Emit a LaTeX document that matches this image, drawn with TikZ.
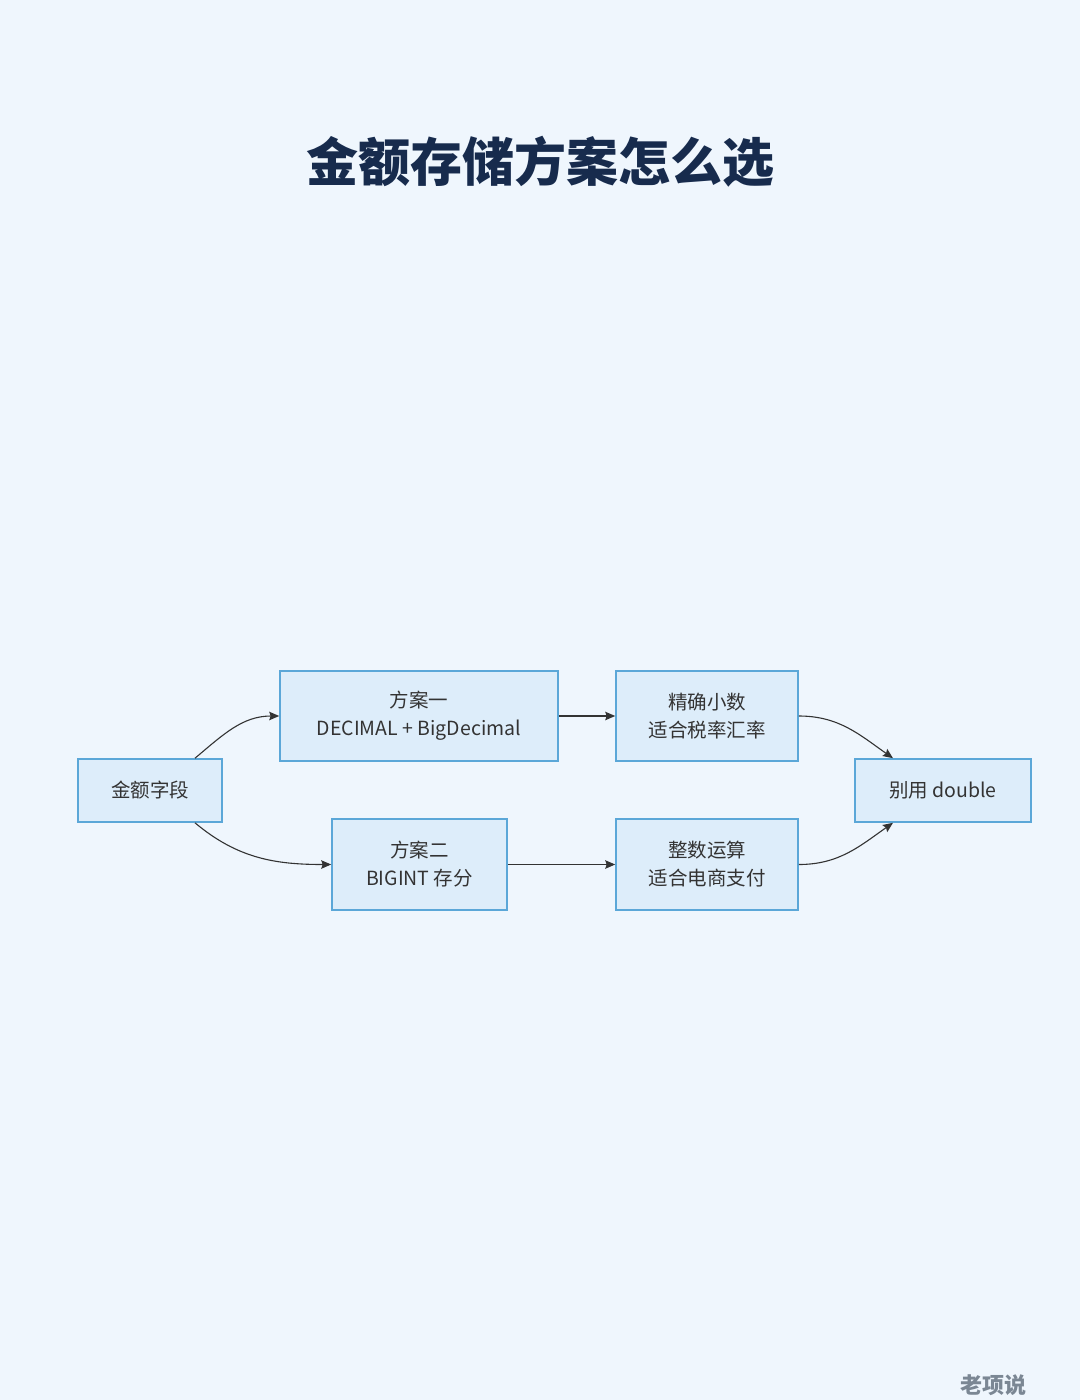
\documentclass[tikz,border=0pt]{standalone}
\usepackage{fontspec}
\setmainfont{Noto Sans CJK SC}
\usepackage{tikz}
\usetikzlibrary{arrows.meta}
\definecolor{pagebg}{HTML}{EFF6FD}
\definecolor{boxfill}{HTML}{DDEDFA}
\definecolor{boxline}{HTML}{5BA7D8}
\definecolor{titleblue}{HTML}{172B4D}
\definecolor{linkgray}{HTML}{333333}
\definecolor{markgray}{HTML}{7B8794}

\begin{document}
\begin{tikzpicture}[x=1pt,y=-1pt,
        box/.style={rectangle,draw=boxline,fill=boxfill,line width=1.6pt,align=center,
            text=linkgray,font=\fontsize{19.5}{28}\selectfont},
        link/.style={draw=linkgray,line width=1.1pt,-{Stealth[length=10pt,width=8.5pt,inset=1.5pt]}}]
        \fill [pagebg] (0,0) rectangle (1080,1400);
        \node [font=\fontsize{52}{60}\selectfont\bfseries,text=titleblue] (title) at (540,162) {金额存储方案怎么选};

        \node [box,minimum width=144,minimum height=63] (field) at (150,790.5) {金额字段};
        \node [box,minimum width=278,minimum height=90] (opt1) at (419,716) {方案一\\DECIMAL + BigDecimal};
        \node [box,minimum width=175,minimum height=91] (opt2) at (419.5,864.5) {方案二\\BIGINT 存分};
        \node [box,minimum width=182,minimum height=90] (exact) at (707,716) {精确小数\\适合税率汇率};
        \node [box,minimum width=182,minimum height=91] (int) at (707,864.5) {整数运算\\适合电商支付};
        \node [box,minimum width=176,minimum height=63] (nodbl) at (943,790.5) {别用 double};

        \draw [link] ([xshift=45]field.north) to[out=40,in=180] (opt1.west);
        \draw [link] ([xshift=45]field.south) to[out=-40,in=180] (opt2.west);
        \draw [link] (opt1.east) -- (exact.west);
        \draw [link] (opt2.east) -- (int.west);
        \draw [link] (exact.east) to[out=0,in=145] ([xshift=-50]nodbl.north);
        \draw [link] (int.east) to[out=0,in=-145] ([xshift=-50]nodbl.south);

        \node [font=\fontsize{22}{26}\selectfont\bfseries,text=markgray,anchor=east] (mark) at (1030,1385) {老项说};
    \end{tikzpicture}
\end{document}
